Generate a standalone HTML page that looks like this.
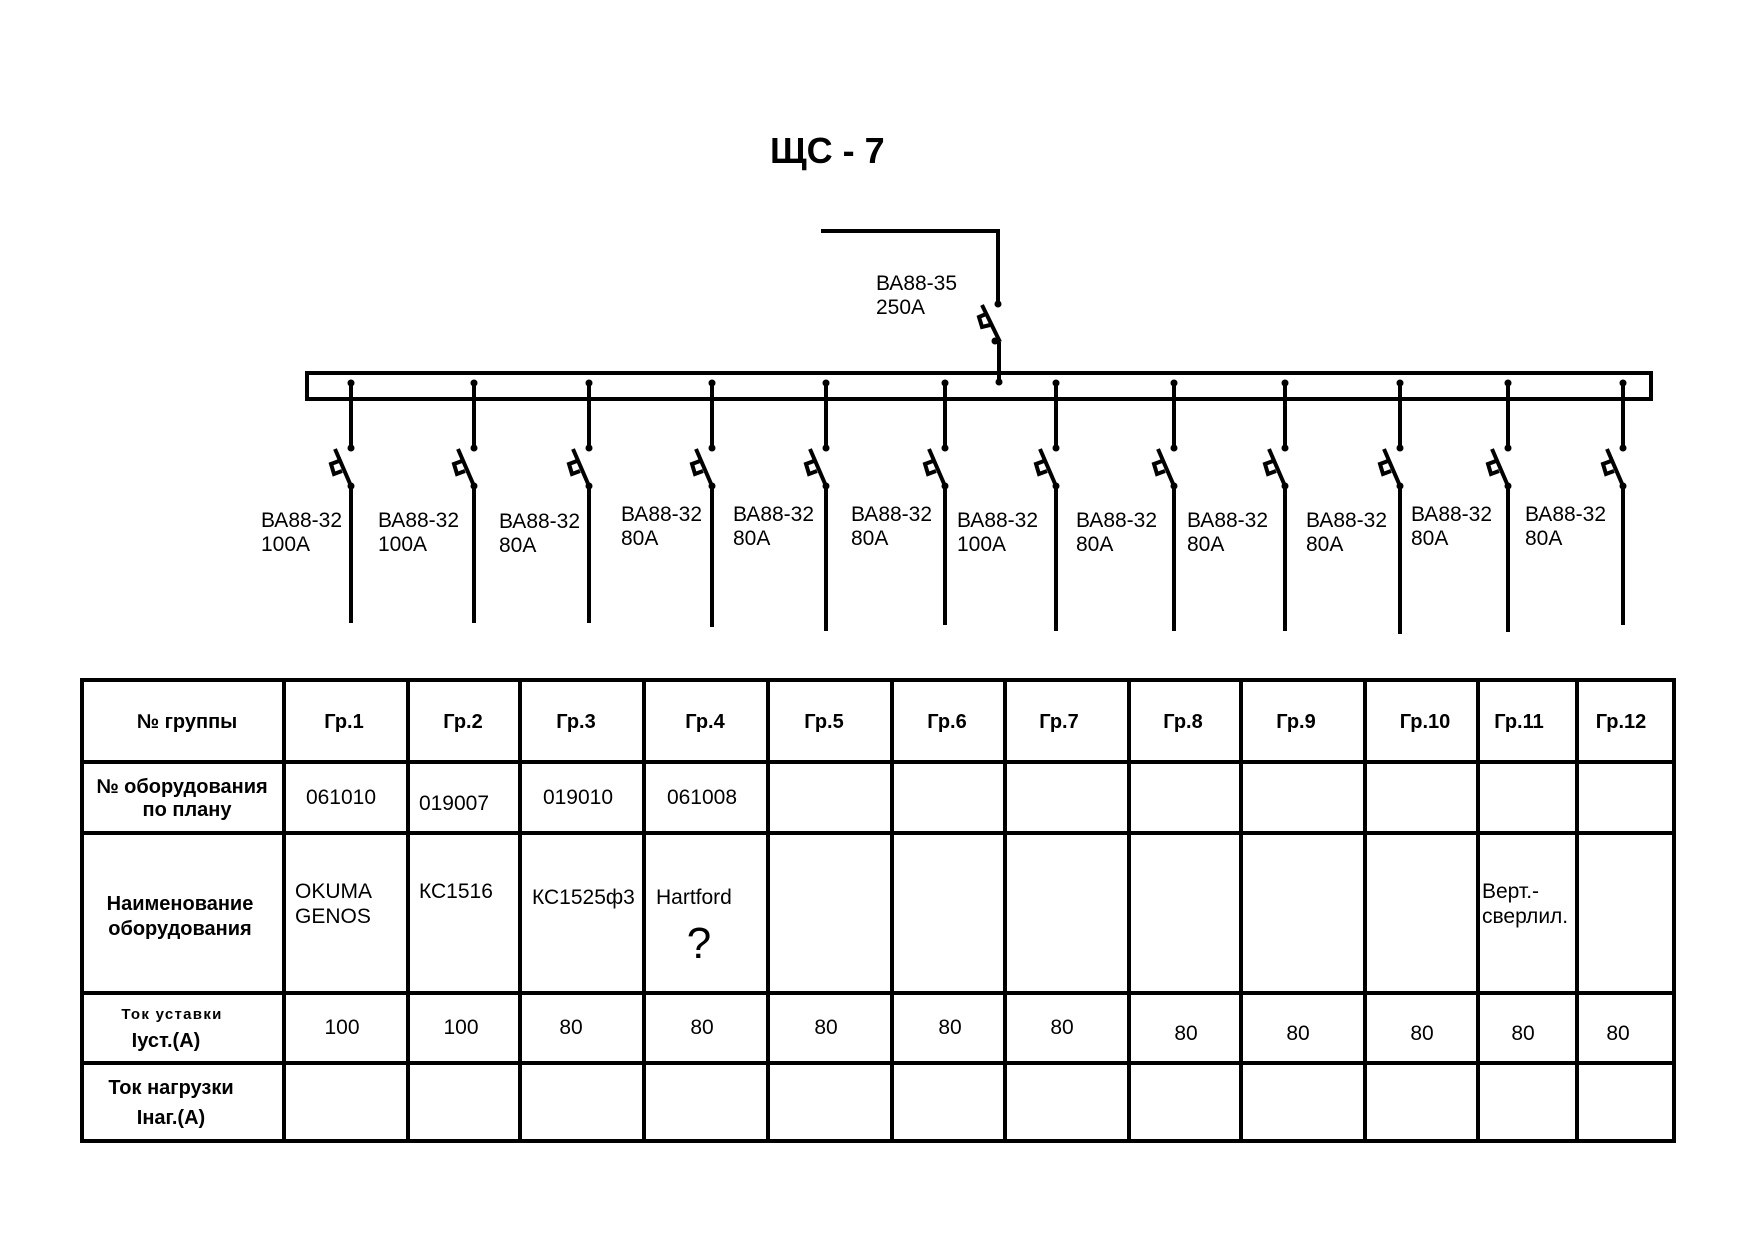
<!DOCTYPE html>
<html><head><meta charset="utf-8"><style>
html,body{margin:0;padding:0;background:#fff;}
svg{display:block;}
text{font-family:"Liberation Sans",Arial,sans-serif;fill:#000;}
.b{font-weight:bold;}
</style></head><body>
<svg width="1754" height="1240" viewBox="0 0 1754 1240" xmlns="http://www.w3.org/2000/svg">
<rect width="1754" height="1240" fill="#fff"/>
<text x="770" y="163" class="b" font-size="36">ЩС - 7</text>
<g stroke="#000" stroke-width="4" fill="none">
<path d="M821 231 H998 V304"/>
<path d="M982 305 L1000 342"/>
<path d="M986 314 L979 317 L982 327 L990 325"/>
<path d="M999 342 V382"/>
<rect x="307" y="373" width="1344" height="26"/>
</g>
<circle cx="998" cy="304" r="3.5"/><circle cx="995" cy="341" r="3.5"/><circle cx="999" cy="382" r="3.5"/>
<text x="876" y="290" font-size="21">ВА88-35</text>
<text x="876" y="314" font-size="21">250А</text>
<g stroke="#000" stroke-width="4" fill="none">
<path d="M351 383V448M335 449L351 486M339 461L331 464L334 474L342 471M351 486V623"/>
<path d="M474 383V448M458 449L474 486M462 461L454 464L457 474L465 471M474 486V623"/>
<path d="M589 383V448M573 449L589 486M577 461L569 464L572 474L580 471M589 486V623"/>
<path d="M712 383V448M696 449L712 486M700 461L692 464L695 474L703 471M712 486V627"/>
<path d="M826 383V448M810 449L826 486M814 461L806 464L809 474L817 471M826 486V631"/>
<path d="M945 383V448M929 449L945 486M933 461L925 464L928 474L936 471M945 486V625"/>
<path d="M1056 383V448M1040 449L1056 486M1044 461L1036 464L1039 474L1047 471M1056 486V631"/>
<path d="M1174 383V448M1158 449L1174 486M1162 461L1154 464L1157 474L1165 471M1174 486V631"/>
<path d="M1285 383V448M1269 449L1285 486M1273 461L1265 464L1268 474L1276 471M1285 486V631"/>
<path d="M1400 383V448M1384 449L1400 486M1388 461L1380 464L1383 474L1391 471M1400 486V634"/>
<path d="M1508 383V448M1492 449L1508 486M1496 461L1488 464L1491 474L1499 471M1508 486V632"/>
<path d="M1623 383V448M1607 449L1623 486M1611 461L1603 464L1606 474L1614 471M1623 486V625"/>
</g>
<g>
<circle cx="351" cy="383" r="3.5"/><circle cx="351" cy="448" r="3.5"/><circle cx="351" cy="486" r="3.5"/>
<circle cx="474" cy="383" r="3.5"/><circle cx="474" cy="448" r="3.5"/><circle cx="474" cy="486" r="3.5"/>
<circle cx="589" cy="383" r="3.5"/><circle cx="589" cy="448" r="3.5"/><circle cx="589" cy="486" r="3.5"/>
<circle cx="712" cy="383" r="3.5"/><circle cx="712" cy="448" r="3.5"/><circle cx="712" cy="486" r="3.5"/>
<circle cx="826" cy="383" r="3.5"/><circle cx="826" cy="448" r="3.5"/><circle cx="826" cy="486" r="3.5"/>
<circle cx="945" cy="383" r="3.5"/><circle cx="945" cy="448" r="3.5"/><circle cx="945" cy="486" r="3.5"/>
<circle cx="1056" cy="383" r="3.5"/><circle cx="1056" cy="448" r="3.5"/><circle cx="1056" cy="486" r="3.5"/>
<circle cx="1174" cy="383" r="3.5"/><circle cx="1174" cy="448" r="3.5"/><circle cx="1174" cy="486" r="3.5"/>
<circle cx="1285" cy="383" r="3.5"/><circle cx="1285" cy="448" r="3.5"/><circle cx="1285" cy="486" r="3.5"/>
<circle cx="1400" cy="383" r="3.5"/><circle cx="1400" cy="448" r="3.5"/><circle cx="1400" cy="486" r="3.5"/>
<circle cx="1508" cy="383" r="3.5"/><circle cx="1508" cy="448" r="3.5"/><circle cx="1508" cy="486" r="3.5"/>
<circle cx="1623" cy="383" r="3.5"/><circle cx="1623" cy="448" r="3.5"/><circle cx="1623" cy="486" r="3.5"/>
</g>
<g font-size="21">
<text x="261" y="527">ВА88-32</text><text x="261" y="551">100А</text>
<text x="378" y="527">ВА88-32</text><text x="378" y="551">100А</text>
<text x="499" y="528">ВА88-32</text><text x="499" y="552">80А</text>
<text x="621" y="521">ВА88-32</text><text x="621" y="545">80А</text>
<text x="733" y="521">ВА88-32</text><text x="733" y="545">80А</text>
<text x="851" y="521">ВА88-32</text><text x="851" y="545">80А</text>
<text x="957" y="527">ВА88-32</text><text x="957" y="551">100А</text>
<text x="1076" y="527">ВА88-32</text><text x="1076" y="551">80А</text>
<text x="1187" y="527">ВА88-32</text><text x="1187" y="551">80А</text>
<text x="1306" y="527">ВА88-32</text><text x="1306" y="551">80А</text>
<text x="1411" y="521">ВА88-32</text><text x="1411" y="545">80А</text>
<text x="1525" y="521">ВА88-32</text><text x="1525" y="545">80А</text>
</g>
<g stroke="#000" stroke-width="4" fill="none">
<rect x="82" y="680" width="1592" height="461"/>
<path d="M82 762H1674M82 833H1674M82 993H1674M82 1063H1674"/>
<path d="M284 680V1141M408 680V1141M520 680V1141M644 680V1141M768 680V1141M892 680V1141M1005 680V1141M1129 680V1141M1241 680V1141M1365 680V1141M1478 680V1141M1577 680V1141"/>
</g>
<g class="b" font-size="20" text-anchor="middle">
<text x="187" y="728">№ группы</text>
<text x="344" y="728">Гр.1</text><text x="463" y="728">Гр.2</text><text x="576" y="728">Гр.3</text>
<text x="705" y="728">Гр.4</text><text x="824" y="728">Гр.5</text><text x="947" y="728">Гр.6</text>
<text x="1059" y="728">Гр.7</text><text x="1183" y="728">Гр.8</text><text x="1296" y="728">Гр.9</text>
<text x="1425" y="728">Гр.10</text><text x="1519" y="728">Гр.11</text><text x="1621" y="728">Гр.12</text>
<text x="182" y="793">№ оборудования</text>
<text x="187" y="816">по плану</text>
<text x="180" y="910">Наименование</text>
<text x="180" y="935">оборудования</text>
<text x="172" y="1019" font-size="15" letter-spacing="1.3">Ток уставки</text>
<text x="166" y="1047">Iуст.(А)</text>
<text x="171" y="1094">Ток нагрузки</text>
<text x="171" y="1124">Iнаг.(А)</text>
</g>
<g font-size="21" text-anchor="middle">
<text x="341" y="804">061010</text><text x="454" y="810">019007</text>
<text x="578" y="804">019010</text><text x="702" y="804">061008</text>
<text x="342" y="1034">100</text><text x="461" y="1034">100</text><text x="571" y="1034">80</text>
<text x="702" y="1034">80</text><text x="826" y="1034">80</text><text x="950" y="1034">80</text>
<text x="1062" y="1034">80</text><text x="1186" y="1040">80</text><text x="1298" y="1040">80</text>
<text x="1422" y="1040">80</text><text x="1523" y="1040">80</text><text x="1618" y="1040">80</text>
<text x="699" y="958" font-size="44">?</text>
</g>
<g font-size="21">
<text x="295" y="898">OKUMA</text><text x="295" y="923">GENOS</text>
<text x="419" y="898">КС1516</text>
<text x="532" y="904">КС1525ф3</text>
<text x="656" y="904">Hartford</text>
<text x="1482" y="898">Верт.-</text><text x="1482" y="923">сверлил.</text>
</g>
</svg>
</body></html>
